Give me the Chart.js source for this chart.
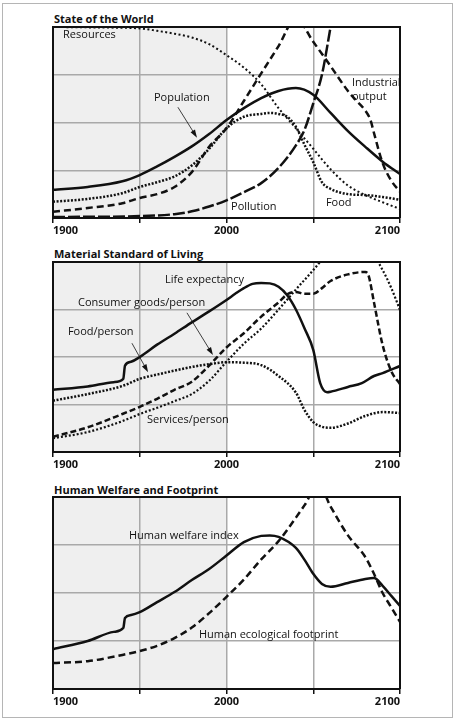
<!DOCTYPE html>
<html><head><meta charset="utf-8">
<script src="https://cdn.jsdelivr.net/npm/chart.js@4.4.0/dist/chart.umd.min.js"></script>
<style>
body{margin:0;background:#fff;width:457px;height:720px;overflow:hidden;position:relative;font-family:'Open Sans',sans-serif;}
#frame{position:absolute;left:2px;top:3px;width:449px;height:713px;border:1px solid #b5b5b5;}
canvas{position:absolute;left:0;}
.title{position:absolute;left:54px;font-weight:bold;font-size:11px;color:#111;line-height:14px;white-space:nowrap;}
</style></head><body>
<div id="frame"></div>
<div class="title" style="top:12px">State of the World</div>
<div class="title" style="top:247px">Material Standard of Living</div>
<div class="title" style="top:483px">Human Welfare and Footprint</div>
<canvas id="c1" width="457" height="240" style="top:0px"></canvas>
<canvas id="c2" width="457" height="235" style="top:240px"></canvas>
<canvas id="c3" width="457" height="237" style="top:475px"></canvas>
<script>
// ---------- data ----------
const tickYears = [1900, 2000, 2100];
const historyEnd = 2000;

// Panel 1: State of the World
const resourcesYears = [1900,1925,1950,1960,1970,1980,1990,2000,2010,2020,2030,2040,2050,2060,2070,2080,2090,2100];
const resourcesVals  = [4.0,3.99,3.97,3.92,3.86,3.78,3.64,3.41,3.15,2.8,2.3,1.88,1.45,1.02,0.68,0.48,0.33,0.19];
const populationYears = [1900,1920,1940,1950,1960,1970,1980,1990,2000,2010,2020,2030,2040,2050,2060,2070,2080,2090,2100];
const populationVals  = [0.59,0.65,0.77,0.9,1.08,1.28,1.5,1.76,2.05,2.3,2.51,2.66,2.72,2.58,2.2,1.82,1.49,1.18,0.92];
const foodYears = [1900,1920,1940,1950,1960,1970,1980,1990,2000,2010,2020,2025,2030,2035,2040,2045,2050,2055,2060,2070,2080,2090,2100];
const foodVals  = [0.34,0.4,0.52,0.65,0.75,0.87,1.1,1.45,1.88,2.12,2.18,2.2,2.18,2.12,1.91,1.53,1.17,0.75,0.61,0.5,0.48,0.44,0.38];
const industryYears = [1900,1920,1940,1950,1960,1970,1980,1990,2000,2010,2020,2030,2040,2050,2060,2070,2075,2080,2083,2085,2090,2095,2100];
const industryVals  = [0.13,0.21,0.31,0.42,0.5,0.65,0.96,1.49,1.88,2.45,3.03,3.6,4.18,3.69,3.18,2.66,2.45,2.25,2.05,1.78,1.15,0.78,0.55];
const pollutionYears = [1900,1950,1970,1980,1990,2000,2010,2020,2030,2040,2045,2050,2055,2060,2065,2070,2080,2090,2100];
const pollutionVals  = [0.02,0.04,0.08,0.14,0.24,0.37,0.54,0.73,1.05,1.52,1.85,2.4,3.0,4.0,5.0,5.5,5.6,5.3,4.9];

// Panel 2: Material Standard of Living
const lifeYears = [1900,1920,1935,1940.5,1941.5,1945,1950,1960,1970,1980,1990,2000,2005,2010,2015,2020,2025,2030,2035,2040,2045,2050,2054,2058,2060,2070,2078,2085,2090,2100];
const lifeVals  = [1.31,1.38,1.47,1.54,1.82,1.9,2.0,2.26,2.49,2.73,2.96,3.2,3.33,3.45,3.54,3.56,3.55,3.48,3.3,3.0,2.6,2.15,1.45,1.26,1.27,1.37,1.45,1.6,1.66,1.81];
const consumerYears = [1900,1920,1940,1950,1960,1970,1980,1990,2000,2010,2020,2030,2035,2040,2045,2050,2055,2060,2070,2080,2082,2085,2090,2095,2100];
const consumerVals  = [0.32,0.52,0.8,0.95,1.12,1.31,1.48,1.82,2.2,2.5,2.85,3.15,3.32,3.37,3.33,3.33,3.45,3.6,3.74,3.79,3.7,3.15,2.25,1.7,1.43];
const foodPerYears = [1900,1920,1940,1950,1960,1980,1990,2000,2010,2020,2030,2040,2045,2050,2055,2060,2070,2080,2090,2100];
const foodPerVals  = [1.08,1.22,1.39,1.54,1.63,1.79,1.85,1.89,1.88,1.83,1.6,1.25,0.88,0.63,0.53,0.51,0.6,0.76,0.84,0.82];
const servicesYears = [1900,1920,1940,1950,1960,1970,1980,1990,2000,2010,2020,2030,2040,2050,2060,2070,2080,2090,2095,2100];
const servicesVals  = [0.29,0.42,0.65,0.8,0.93,1.07,1.22,1.5,1.9,2.28,2.6,3.0,3.42,3.83,4.25,4.5,4.4,3.83,3.45,2.99];

// Panel 3: Human Welfare and Footprint
const welfareYears = [1900,1920,1935,1940.5,1941.5,1945,1950,1960,1970,1980,1990,2000,2010,2020,2025,2030,2040,2045,2050,2055,2060,2070,2080,2085,2090,2095,2100];
const welfareVals  = [0.83,1.0,1.19,1.27,1.48,1.54,1.6,1.81,2.02,2.27,2.5,2.78,3.06,3.19,3.2,3.17,2.94,2.69,2.4,2.19,2.13,2.21,2.29,2.31,2.15,1.94,1.73];
const footprintYears = [1900,1920,1940,1950,1960,1970,1980,1990,2000,2010,2020,2030,2040,2045,2053,2060,2070,2080,2085,2090,2095,2100];
const footprintVals  = [0.54,0.58,0.71,0.79,0.9,1.06,1.28,1.58,1.92,2.28,2.7,3.08,3.57,3.83,4.26,3.8,3.2,2.75,2.4,2.0,1.7,1.4];

// ---------- drawing ----------
const INK = '#111';
const GRID = '#a9a9a9';
Chart.defaults.font.family = "'Open Sans', sans-serif";

function series(years, vals, dash, width) {
  return {
    data: years.map((y, i) => ({x: y, y: vals[i]})),
    borderColor: INK, borderWidth: width || 2.5, borderDash: dash || [],
    pointRadius: 0, cubicInterpolationMode: 'monotone', fill: false
  };
}

function decor(notes, arrows) {
  return {
    id: 'decor',
    beforeDraw(chart) {
      const {ctx, chartArea: a, scales: {x}} = chart;
      ctx.save();
      ctx.fillStyle = '#efefef';
      const x2 = x.getPixelForValue(historyEnd);
      ctx.fillRect(a.left, a.top, x2 - a.left, a.bottom - a.top);
      ctx.restore();
    },
    afterDraw(chart) {
      const {ctx, chartArea: a, scales: {x, y}} = chart;
      ctx.save();
      ctx.strokeStyle = INK; ctx.lineWidth = 2;
      ctx.beginPath();
      ctx.moveTo(a.left - 1, a.top); ctx.lineTo(a.right, a.top); ctx.lineTo(a.right, a.bottom);
      ctx.stroke();
      ctx.fillStyle = INK;
      ctx.font = "11px 'Open Sans'";
      ctx.textBaseline = 'middle'; ctx.textAlign = 'left';
      notes.forEach(n => ctx.fillText(n.text, x.getPixelForValue(n.year), y.getPixelForValue(n.value)));
      arrows.forEach(ar => {
        const x1 = x.getPixelForValue(ar.from[0]), y1 = y.getPixelForValue(ar.from[1]);
        const x2 = x.getPixelForValue(ar.to[0]), y2 = y.getPixelForValue(ar.to[1]);
        const ang = Math.atan2(y2 - y1, x2 - x1);
        ctx.lineWidth = 0.8;
        ctx.beginPath(); ctx.moveTo(x1, y1); ctx.lineTo(x2 - 5 * Math.cos(ang), y2 - 5 * Math.sin(ang)); ctx.stroke();
        ctx.beginPath();
        ctx.moveTo(x2, y2);
        ctx.lineTo(x2 - 8 * Math.cos(ang) + 2.6 * Math.sin(ang), y2 - 8 * Math.sin(ang) - 2.6 * Math.cos(ang));
        ctx.lineTo(x2 - 8 * Math.cos(ang) - 2.6 * Math.sin(ang), y2 - 8 * Math.sin(ang) + 2.6 * Math.cos(ang));
        ctx.closePath(); ctx.fill();
      });
      ctx.restore();
    }
  };
}

function panel(id, datasets, padTop, axisH, notes, arrows) {
  new Chart(document.getElementById(id), {
    type: 'line',
    data: {datasets},
    options: {
      responsive: false, animation: false, events: [],
      layout: {padding: {left: 53, right: 57, top: padTop, bottom: 0}},
      plugins: {legend: {display: false}, tooltip: {enabled: false}, title: {display: false}},
      scales: {
        x: {
          type: 'linear', min: 1900, max: 2100,
          ticks: {stepSize: 50, autoSkip: false, maxRotation: 0, align: 'inner', padding: 1, color: INK,
                  font: {size: 11, weight: 'bold'},
                  callback: v => tickYears.includes(v) ? String(v) : ''},
          grid: {color: GRID, lineWidth: 1.5, drawTicks: true, tickLength: 5, tickColor: INK, tickWidth: 1.5},
          border: {color: INK, width: 2},
          afterFit: s => { s.height = axisH; }
        },
        y: {
          min: 0, max: 4,
          ticks: {display: false, stepSize: 1},
          grid: {color: GRID, lineWidth: 1.5, drawTicks: false},
          border: {color: INK, width: 2},
          afterFit: s => { s.width = 0; }
        }
      }
    },
    plugins: [decor(notes, arrows)]
  });
}

panel('c1', [
  series(resourcesYears, resourcesVals, [2, 2.5], 2),
  series(populationYears, populationVals),
  series(foodYears, foodVals, [2, 1.6], 2.5),
  series(industryYears, industryVals, [7, 4]),
  series(pollutionYears, pollutionVals, [12, 3])
], 27, 22, [
  {text: 'Resources', year: 1905.8, value: 3.83},
  {text: 'Population', year: 1958.2, value: 2.51},
  {text: 'Industrial', year: 2072.3, value: 2.83},
  {text: 'output', year: 2072.3, value: 2.53},
  {text: 'Pollution', year: 2002.6, value: 0.23},
  {text: 'Food', year: 2057.3, value: 0.31}
], [
  {from: [1972.0, 2.32], to: [1983.0, 1.68]}
]);

panel('c2', [
  series(lifeYears, lifeVals),
  series(consumerYears, consumerVals, [6, 3]),
  series(foodPerYears, foodPerVals, [2, 1.6], 2.5),
  series(servicesYears, servicesVals, [2, 2], 2.2)
], 22, 23, [
  {text: 'Life expectancy', year: 1964.6, value: 3.62},
  {text: 'Consumer goods/person', year: 1914.4, value: 3.14},
  {text: 'Food/person', year: 1908.6, value: 2.53},
  {text: 'Services/person', year: 1954.2, value: 0.67}
], [
  {from: [1977.2, 2.93], to: [1992.2, 2.04]},
  {from: [1945.5, 2.29], to: [1954.8, 1.68]}
]);

panel('c3', [
  series(welfareYears, welfareVals),
  series(footprintYears, footprintVals, [7, 4])
], 22, 23, [
  {text: 'Human welfare index', year: 1943.8, value: 3.19},
  {text: 'Human ecological footprint', year: 1984.1, value: 1.125}
], []);
</script>
</body></html>
